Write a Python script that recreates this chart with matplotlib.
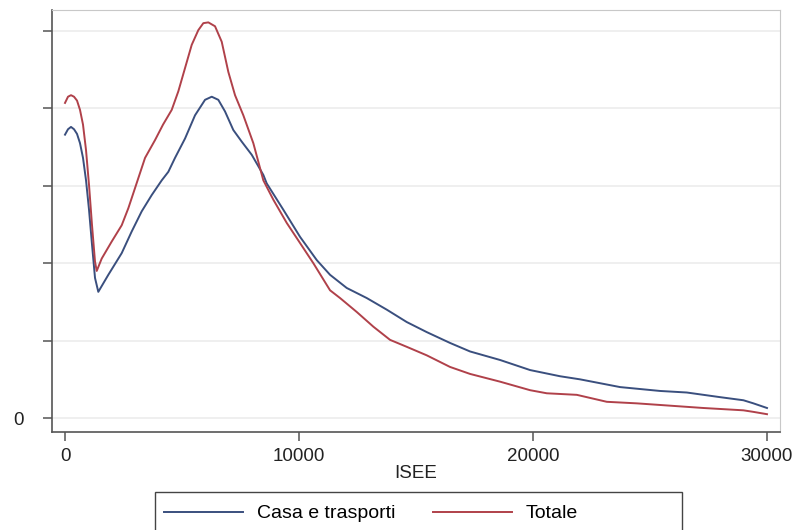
import matplotlib.pyplot as plt
from matplotlib.lines import Line2D
from matplotlib.patches import Rectangle

plt.rcParams['font.family'] = ['Liberation Sans', 'DejaVu Sans']

BLUE = "#3a4f7e"
RED = "#b0414a"
GRID = "#ececec"

# Casa e trasporti
casa_x = [0, 128, 256, 385, 513, 641, 769, 898, 1026, 1154, 1282, 1423, 1851,
          2423, 2851, 3278, 3706, 4133, 4415, 4701, 5129, 5556, 5984, 6270, 6552,
          6838, 7193, 7552, 7980, 8476, 8621, 9331, 10045, 10759, 11327, 12040,
          12895, 13750, 14605, 15460, 16456, 17311, 18593, 19875, 21157, 22012,
          23722, 25432, 26573, 27996, 28992, 29419, 30000]
casa_y = [3.66, 3.73, 3.76, 3.73, 3.67, 3.55, 3.36, 3.07, 2.69, 2.24, 1.81, 1.63, 1.85,
          2.13, 2.41, 2.67, 2.88, 3.07, 3.18, 3.36, 3.61, 3.91, 4.11, 4.15, 4.11,
          3.96, 3.72, 3.57, 3.40, 3.14, 3.03, 2.69, 2.34, 2.04, 1.85, 1.68,
          1.55, 1.40, 1.24, 1.11, 0.97, 0.86, 0.75, 0.62, 0.54, 0.50,
          0.40, 0.35, 0.33, 0.27, 0.23, 0.19, 0.13]

# Totale
tot_x = [0, 128, 256, 385, 513, 641, 769, 898, 1026, 1154, 1282, 1355, 1569,
         1996, 2423, 2706, 2992, 3420, 3847, 4189, 4560, 4843, 5129, 5415, 5697,
         5911, 6125, 6411, 6697, 6980, 7266, 7621, 8048, 8476, 8903, 9476, 10045,
         10613, 11327, 11754, 12468, 13178, 13891, 14605, 15460, 16456, 17311,
         18593, 19875, 20589, 21871, 23154, 24436, 25859, 27282, 28992, 29419, 30000]
tot_y = [4.07, 4.15, 4.17, 4.15, 4.10, 3.98, 3.79, 3.46, 3.01, 2.49, 2.02, 1.90, 2.06,
         2.28, 2.49, 2.71, 2.97, 3.36, 3.59, 3.79, 3.98, 4.22, 4.52, 4.82, 5.01,
         5.10, 5.11, 5.06, 4.86, 4.47, 4.17, 3.91, 3.55, 3.07, 2.82, 2.52, 2.26,
         2.00, 1.65, 1.55, 1.37, 1.18, 1.01, 0.92, 0.81, 0.66, 0.57,
         0.47, 0.36, 0.32, 0.30, 0.21, 0.19, 0.16, 0.13, 0.10, 0.08, 0.05]

fig = plt.figure(figsize=(7.95, 5.30), dpi=100, facecolor="white")
ax = fig.add_axes([52 / 795, 98 / 530, 728 / 795, 422 / 530])

ax.plot(casa_x, casa_y, color=BLUE, lw=1.4, label="Casa e trasporti")
ax.plot(tot_x, tot_y, color=RED, lw=1.4, label="Totale")

ax.set_xlim(-556, 30556)
ax.set_ylim(-0.18, 5.27)

ax.set_yticks([0, 1, 2, 3, 4, 5])
ax.set_yticklabels(["0", "", "", "", "", ""])
ax.set_xticks([0, 10000, 20000, 30000])
ax.set_xticklabels(["0", "10000", "20000", "30000"])
ax.yaxis.grid(True, color=GRID, lw=1.2)
ax.set_axisbelow(True)

for side in ["top", "right"]:
    ax.spines[side].set_color("#c8c8c8")
for side in ["left", "bottom"]:
    ax.spines[side].set_color("#555555")
    ax.spines[side].set_linewidth(1.2)
ax.tick_params(axis="both", direction="out", length=6.5, width=1.1, color="#555555",
               labelsize=13.5, labelcolor="#222222", pad=5)
ax.tick_params(axis="y", pad=14)

ax.set_xlabel("ISEE", fontsize=13.5, color="#222222", labelpad=0)

# legend: entries without frame, box drawn wider like the original
handles = [Line2D([], [], color=BLUE, lw=1.4), Line2D([], [], color=RED, lw=1.4)]
leg = fig.legend(handles, ["Casa e trasporti", "Totale"], loc="upper left",
                 bbox_to_anchor=(155 / 795, 1 - 496 / 530), ncol=2, frameon=False,
                 fontsize=14, handlelength=4.1, columnspacing=1.9, borderpad=0.45,
                 borderaxespad=0, handletextpad=0.7)
fig.patches.append(Rectangle((155 / 795, -0.02), 527 / 795, 1 - 492 / 530 + 0.02,
                             transform=fig.transFigure, fill=False,
                             edgecolor="#444444", lw=1.0))

fig.savefig("out.png", dpi=100, facecolor="white")
